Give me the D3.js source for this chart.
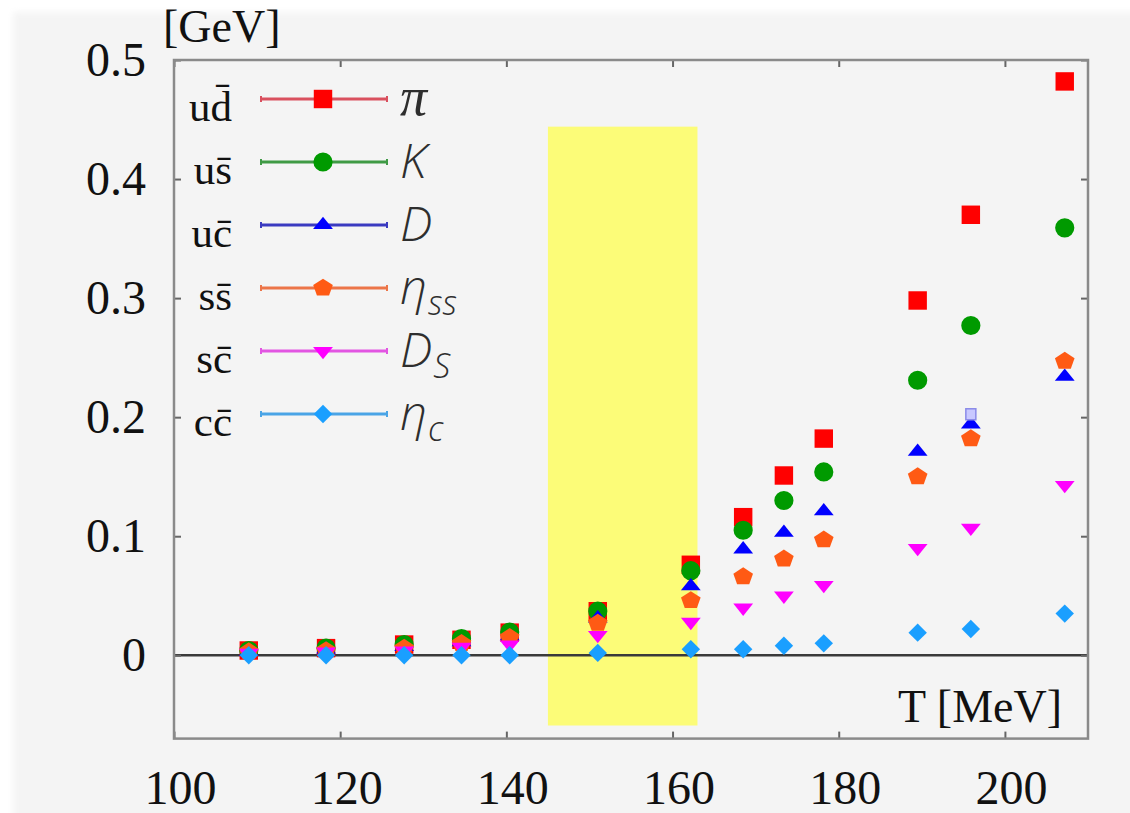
<!DOCTYPE html>
<html lang="en">
<head>
  <meta charset="UTF-8">
  <title>Screening masses vs T</title>
  <style>
    body, html {
      margin: 0;
      padding: 0;
      background: #fff;
    }
  </style>
</head>
<body>
  <svg id="svg" width="1130" height="813"></svg>
  <script src="https://d3js.org/d3.v7.min.js"></script>
  <script>
    // temperatures of the lattice ensembles [MeV]
    const temps = [109, 118.3, 127.7, 134.6, 140.4, 151, 162.2, 168.5, 173.4, 178.2, 189.5, 195.9, 207.2]

    // values per channel [GeV]
    const piVals   = [0.004, 0.006, 0.009, 0.013, 0.019, 0.037, 0.076, 0.116, 0.151, 0.182, 0.298, 0.370, 0.482]
    const kVals    = [0.004, 0.006, 0.009, 0.014, 0.0195, 0.037, 0.071, 0.105, 0.130, 0.154, 0.231, 0.277, 0.359]
    const dVals    = [0.003, 0.005, 0.007, 0.011, 0.016, 0.031, 0.058, 0.089, 0.103, 0.121, 0.171, 0.194, 0.234]
    const etaSVals = [0.003, 0.004, 0.006, 0.010, 0.015, 0.027, 0.046, 0.066, 0.081, 0.097, 0.150, 0.182, 0.247]
    const dsVals   = [0.002, 0.003, 0.004, 0.007, 0.009, 0.017, 0.028, 0.040, 0.050, 0.059, 0.090, 0.107, 0.143]
    const etaCVals = [0.000, 0.000, 0.000, 0.000, 0.000, 0.002, 0.005, 0.005, 0.008, 0.010, 0.019, 0.022, 0.035]

    // one stray open square near the D point at 196 MeV
    const strayT = [195.9]
    const strayVals = [0.202]

    const quarks = ['ud\u0304', 'us\u0304', 'uc\u0304', 'ss\u0304', 'sc\u0304', 'cc\u0304']
    const names  = ['\u03c0', 'K', 'D', '\u03b7', 'D', '\u03b7']
    const subs   = ['', '', '', 'ss', 'S', 'c']

    const xTicks = [100, 120, 140, 160, 180, 200]
    const yTicks = [0, 0.1, 0.2, 0.3, 0.4, 0.5]
    const band = [145, 163] // yellow crossover band [MeV]

    const series = [piVals, kVals, dVals, etaSVals, dsVals, etaCVals]
    const markColors = ['#ff0000', '#009a00', '#0000ff', '#ff5a14', '#ff00ff', '#1a9fff']
    const lineColors = ['#d9505e', '#3f9a45', '#3a3ac0', '#ec7548', '#e255e2', '#4aa4e6']

    // custom pentagon symbol for eta_ss
    const symbolPentagon = {
      draw(ctx, size) {
        const r = Math.sqrt(size / 2.378)
        for (let i = 0; i < 5; i++) {
          const a = -Math.PI / 2 + i * 2 * Math.PI / 5
          const px = r * Math.cos(a), py = r * Math.sin(a)
          if (i === 0) ctx.moveTo(px, py); else ctx.lineTo(px, py)
        }
        ctx.closePath()
      }
    }
    // symbol, size and extra transform per series
    const shapes = [
      { type: d3.symbolSquare, size: 340, tf: '' },
      { type: d3.symbolCircle, size: 290, tf: '' },
      { type: d3.symbolTriangle, size: 170, tf: 'scale(1,0.72)' },
      { type: symbolPentagon, size: 230, tf: 'scale(1.05,0.95)' },
      { type: d3.symbolTriangle, size: 170, tf: 'rotate(180) scale(1,0.72)' },
      { type: d3.symbolSquare, size: 170, tf: 'rotate(45)' }
    ]

    const svg = d3.select('#svg')

    // screenshot look: white margin, grey page
    svg.append('defs').append('filter').attr('id', 'soft')
      .append('feGaussianBlur').attr('stdDeviation', 3)
    svg.append('rect').attr('width', 1130).attr('height', 813).attr('fill', '#fff')
    svg.append('rect')
      .attr('x', 13).attr('y', 12).attr('width', 1140).attr('height', 820)
      .attr('fill', '#f4f4f4').attr('filter', 'url(#soft)')

    const x = d3.scaleLinear().domain([100, 210]).range([174, 1088])
    const y = d3.scaleLinear().domain([-0.07, 0.5]).range([738.6, 60])

    // yellow band
    svg.append('rect')
      .attr('x', x(band[0])).attr('width', x(band[1]) - x(band[0]))
      .attr('y', y(0.444)).attr('height', y(-0.059) - y(0.444))
      .attr('fill', '#fcfc78')

    // zero line
    svg.append('line')
      .attr('x1', x(100)).attr('x2', x(210))
      .attr('y1', y(0)).attr('y2', y(0))
      .attr('stroke', '#3a3a3a').attr('stroke-width', 2.5)

    // axes (inward ticks on all four sides)
    const serif = '"Liberation Serif", "Times New Roman", serif'
    const yFmt = d => d === 0 ? '0' : d3.format('.1f')(d)

    const gL = svg.append('g').attr('transform', `translate(${x(100)},0)`)
      .call(d3.axisLeft(y).tickValues(yTicks).tickSize(-7).tickSizeOuter(0).tickPadding(28).tickFormat(yFmt))
    const gB = svg.append('g').attr('transform', `translate(0,${y(-0.07)})`)
      .call(d3.axisBottom(x).tickValues(xTicks).tickSize(-7).tickSizeOuter(0).tickPadding(31))
    const gT = svg.append('g').attr('transform', `translate(0,${y(0.5)})`)
      .call(d3.axisTop(x).tickValues(xTicks).tickSize(-7).tickSizeOuter(0).tickFormat(''))
    const gR = svg.append('g').attr('transform', `translate(${x(210)},0)`)
      .call(d3.axisRight(y).tickValues(yTicks).tickSize(-7).tickSizeOuter(0).tickFormat(''))

    for (const g of [gL, gB, gT, gR]) {
      g.select('.domain').remove()
      g.selectAll('line').attr('stroke', '#666').attr('stroke-width', 2)
      g.selectAll('text').attr('fill', '#111').style('font-family', serif).style('font-size', '48px')
    }
    gB.selectAll('text').attr('dx', 6)

    // frame
    svg.append('rect')
      .attr('x', x(100)).attr('y', y(0.5))
      .attr('width', x(210) - x(100)).attr('height', y(-0.07) - y(0.5))
      .attr('fill', 'none').attr('stroke', '#8a8a8a').attr('stroke-width', 2.5)

    // unit labels
    svg.append('text').text('[GeV]')
      .attr('x', 163).attr('y', 42)
      .style('font-family', serif).style('font-size', '46px').attr('fill', '#111')
    svg.append('text').text('T [MeV]')
      .attr('x', 1062).attr('y', 722).attr('text-anchor', 'end')
      .style('font-family', serif).style('font-size', '46px').attr('fill', '#111')

    // data points
    const pts = svg.append('g')
    series.forEach((vals, s) => {
      const sym = d3.symbol().type(shapes[s].type).size(shapes[s].size)
      pts.append('g')
        .selectAll('path')
        .data(vals.map((v, i) => ({ t: temps[i], v })))
        .enter()
        .append('path')
        .attr('d', sym)
        .attr('transform', d => `translate(${x(d.t)},${y(d.v)}) ${shapes[s].tf}`)
        .attr('fill', markColors[s])
    })
    pts.selectAll('.stray')
      .data(strayVals.map((v, i) => ({ t: strayT[i], v })))
      .enter()
      .append('rect')
      .attr('class', 'stray')
      .attr('x', d => x(d.t) - 5).attr('y', d => y(d.v) - 6)
      .attr('width', 10).attr('height', 11)
      .attr('fill', '#c8c8ff').attr('stroke', '#8a8ae8').attr('stroke-width', 1.5)

    // legend inside the frame
    const rowY = d3.scalePoint().domain(d3.range(6)).range([99, 414])
    const leg = svg.append('g')
    quarks.forEach((q, i) => {
      const ry = rowY(i)
      const row = leg.append('g')
      row.append('text').text(q)
        .attr('x', 232).attr('y', ry + 22).attr('text-anchor', 'end')
        .style('font-family', serif).style('font-size', '43px').attr('fill', '#111')
      row.append('line')
        .attr('x1', 261).attr('x2', 387).attr('y1', ry).attr('y2', ry)
        .attr('stroke', lineColors[i]).attr('stroke-width', 3)
      for (const ex of [261, 387]) {
        row.append('line')
          .attr('x1', ex).attr('x2', ex).attr('y1', ry - 3).attr('y2', ry + 3)
          .attr('stroke', lineColors[i]).attr('stroke-width', 2)
      }
      row.append('path')
        .attr('d', d3.symbol().type(shapes[i].type).size(shapes[i].size))
        .attr('transform', `translate(323,${ry}) ${shapes[i].tf}`)
        .attr('fill', markColors[i])
      const t = row.append('text')
        .attr('x', 400).attr('y', ry + 16)
        .attr('fill', '#2e2e2e')
        .style('font-style', 'italic')
      t.append('tspan').text(names[i])
        .style('font-family', i === 0 ? serif : '"Open Sans", sans-serif')
        .style('font-weight', 300)
        .style('font-size', i === 0 ? '54px' : '48px')
      if (subs[i]) {
        t.append('tspan').text(subs[i])
          .attr('dy', 11).attr('dx', 1)
          .style('font-family', '"Open Sans", sans-serif')
          .style('font-weight', 300)
          .style('font-size', '34px')
      }
    })
  </script>
</body>
</html>
